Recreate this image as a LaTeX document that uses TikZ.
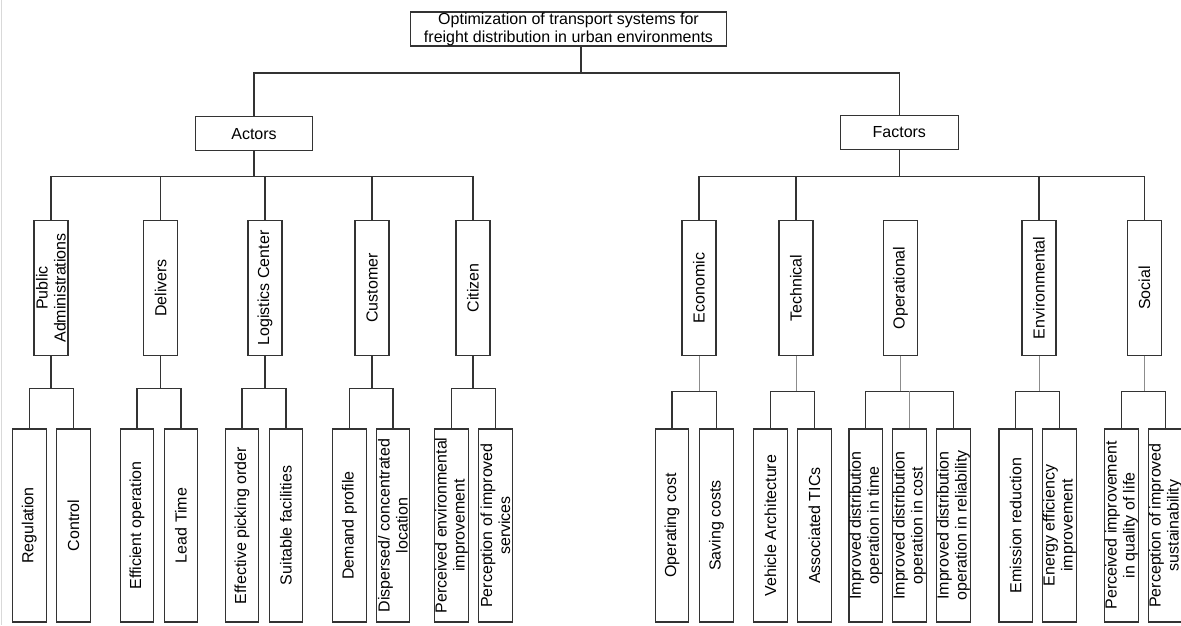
\documentclass[tikz,border=0pt]{standalone}
\usepackage{fontspec}
\setmainfont{Liberation Sans}
\tikzset{
  box/.style={draw=black!80, line width=1.1pt, align=center, inner sep=0pt,
    font=\fontsize{16}{18}\selectfont},
  headbox/.style={box, minimum width=316.7pt, minimum height=34pt},
  groupbox/.style={box, minimum width=117.7pt, minimum height=34pt},
  catbox/.style={box, rotate=90, minimum width=134.3pt, minimum height=34pt},
  leafbox/.style={box, rotate=90, minimum width=193pt, minimum height=33.5pt},
  link/.style={draw=black!80, line width=1.1pt},
  thinlink/.style={draw=black!45, line width=0.6pt},
}
\begin{document}
\begin{tikzpicture}[x=1pt,y=-1pt]
\useasboundingbox (0,0) rectangle (1181,625);
\clip (0,0) rectangle (1181,625);
\draw[black!15, line width=0.8pt] (1.5,0) -- (1.5,625);

\node[headbox] (top) at (568.5,29) {Optimization of transport systems for\\freight distribution in urban environments};
\node[groupbox] (act) at (254,133.7) {Actors};
\node[groupbox] (fac) at (899.3,132.3) {Factors};

% actors
\node[catbox] (pa) at (51,287.9) {Public\\Administrations};
\node[catbox] (del) at (160.7,287.9) {Delivers};
\node[catbox] (log) at (265,287.9) {Logistics Center};
\node[catbox] (cus) at (372,287.9) {Customer};
\node[catbox] (cit) at (473,287.9) {Citizen};

\node[leafbox] (reg) at (29.3,525.5) {Regulation};
\node[leafbox] (con) at (73.5,525.5) {Control};
\node[leafbox] (eff) at (137,525.5) {Efficient operation};
\node[leafbox] (lea) at (181,525.5) {Lead Time};
\node[leafbox] (pic) at (242,525.5) {Effective picking order};
\node[leafbox] (sui) at (286,525.5) {Suitable facilities};
\node[leafbox] (dem) at (349.5,525.5) {Demand profile};
\node[leafbox] (dis) at (393,525.5) {Dispersed/ concentrated\\location};
\node[leafbox] (pen) at (451.5,525.5) {Perceived environmental\\improvement};
\node[leafbox] (pse) at (495.5,525.5) {Perception of improved\\services};

% factors
\node[catbox] (eco) at (699,287.9) {Economic};
\node[catbox] (tec) at (796,287.9) {Technical};
\node[catbox] (ope) at (900.5,287.9) {Operational};
\node[catbox] (env) at (1039,287.9) {Environmental};
\node[catbox] (soc) at (1144.5,287.9) {Social};

\node[leafbox] (opc) at (672,525.5) {Operating cost};
\node[leafbox] (sav) at (716.5,525.5) {Saving costs};
\node[leafbox] (veh) at (770.5,525.5) {Vehicle Architecture};
\node[leafbox] (tic) at (814.3,525.5) {Associated TICs};
\node[leafbox] (itm) at (865.7,525.5) {Improved distribution\\operation in time};
\node[leafbox] (ico) at (909.5,525.5) {Improved distribution\\operation in cost};
\node[leafbox] (irl) at (953.5,525.5) {Improved distribution\\operation in reliability};
\node[leafbox] (emi) at (1015.7,525.5) {Emission reduction};
\node[leafbox] (ene) at (1059.5,525.5) {Energy efficiency\\improvement};
\node[leafbox] (pql) at (1121.5,525.5) {Perceived improvement\\in quality of life};
\node[leafbox] (psu) at (1165.5,525.5) {Perception of improved\\sustainability};

% top connectors
\coordinate (j0) at (581,73);
\draw[link] (j0 |- top.south) -- (j0);
\draw[link] (act.north) |- (j0) -| (fac.north);

% second level
\draw[link] (act.south) -- ++(0,25.3) coordinate (ja);
\draw[link] (pa.east) |- (ja) -| (cit.east);
\draw[link] (del.east) -- (del.east |- ja);
\draw[link] (log.east) -- (log.east |- ja);
\draw[link] (cus.east) -- (cus.east |- ja);
\draw[link] (fac.south) -- ++(0,26.7) coordinate (jf);
\draw[link] (eco.east) |- (jf) -| (soc.east);
\draw[link] (tec.east) -- (tec.east |- jf);
\draw[link] (env.east) -- (env.east |- jf);

% leaves of actors
\draw[link] (pa.west) -- ++(0,33.3) coordinate (b1);
\draw[link] (reg.east) |- (b1) -| (con.east);
\draw[link] (del.west) -- ++(0,33.3) coordinate (b2);
\draw[link] (eff.east) |- (b2) -| (lea.east);
\draw[link] (log.west) -- ++(0,33.3) coordinate (b3);
\draw[link] (pic.east) |- (b3) -| (sui.east);
\draw[link] (cus.west) -- ++(0,33.3) coordinate (b4);
\draw[link] (dem.east) |- (b4) -| (dis.east);
\draw[link] (cit.west) -- ++(0,33.3) coordinate (b5);
\draw[link] (pen.east) |- (b5) -| (pse.east);

% leaves of factors
\draw[thinlink] (eco.west) -- ++(0,35.7) coordinate (b6);
\draw[link] (opc.east) |- (b6) -| (sav.east);
\draw[thinlink] (tec.west) -- ++(0,35.7) coordinate (b7);
\draw[link] (veh.east) |- (b7) -| (tic.east);
\draw[thinlink] (ope.west) -- ++(0,35.7) coordinate (b8);
\draw[link] (itm.east) |- (b8) -| (irl.east);
\draw[thinlink] (ico.east) -- (ico.east |- b8);
\draw[thinlink] (env.west) -- ++(0,35.7) coordinate (b9);
\draw[link] (emi.east) |- (b9) -| (ene.east);
\draw[thinlink] (soc.west) -- ++(0,35.7) coordinate (b10);
\draw[link] (pql.east) |- (b10) -| (psu.east);
\end{tikzpicture}
\end{document}
